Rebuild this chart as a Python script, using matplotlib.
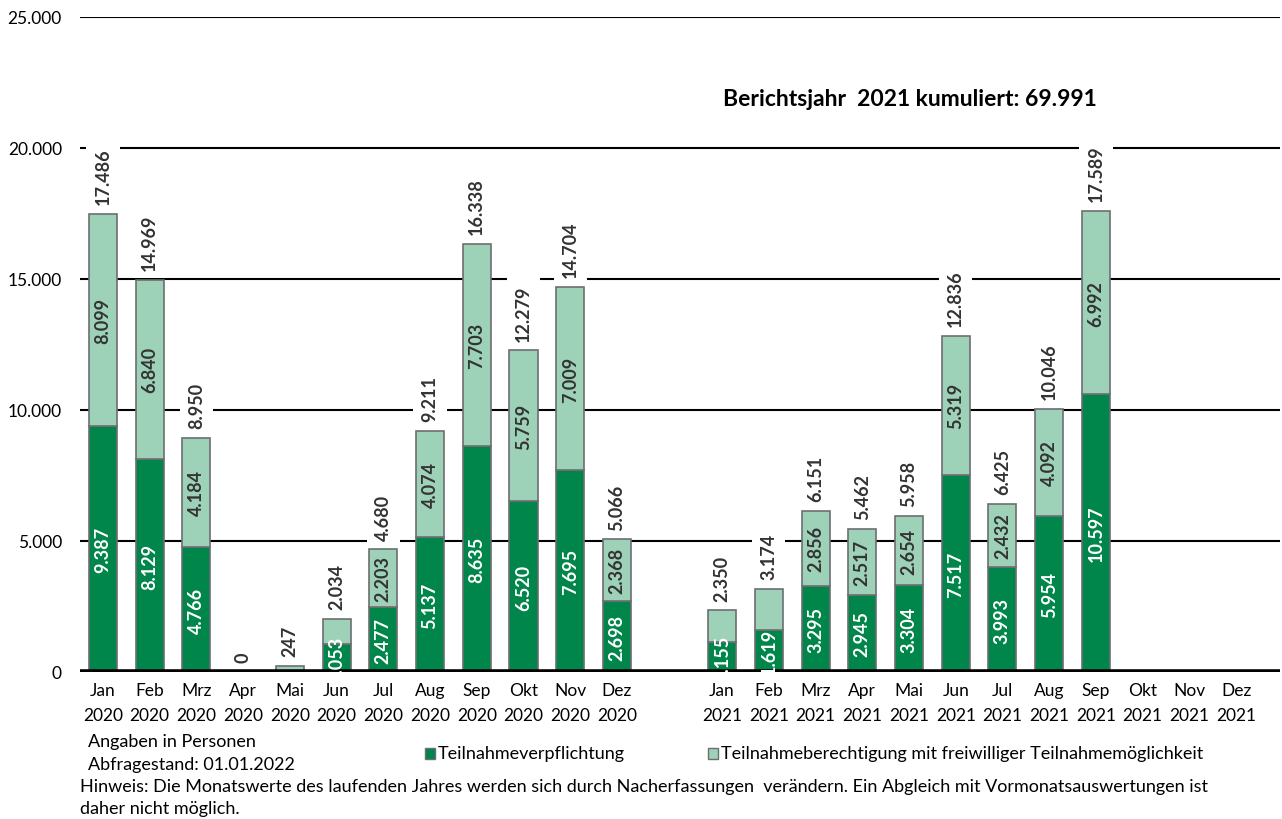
import matplotlib
matplotlib.use("Agg")
import matplotlib.pyplot as plt
from matplotlib.patches import Rectangle

plt.rcParams["font.family"] = ["Lato", "DejaVu Sans"]

monate = ["Jan", "Feb", "Mrz", "Apr", "Mai", "Jun", "Jul", "Aug", "Sep", "Okt", "Nov", "Dez"]

# 2020
pflicht_2020 = [9387, 8129, 4766, 0, 0, 1053, 2477, 5137, 8635, 6520, 7695, 2698]
freiwillig_2020 = [8099, 6840, 4184, 0, 247, 981, 2203, 4074, 7703, 5759, 7009, 2368]
# 2021 (nur bis Sep)
pflicht_2021 = [1155, 1619, 3295, 2945, 3304, 7517, 3993, 5954, 10597]
freiwillig_2021 = [1195, 1555, 2856, 2517, 2654, 5319, 2432, 4092, 6992]

titel = "Berichtsjahr  2021 kumuliert: 69.991"

dunkel = "#00854a"
hell = "#9dd1b8"
rand = "#6d6e71"


def fmt(v):
    return f"{v:,}".replace(",", ".")


fig = plt.figure(figsize=(12.82, 8.2), dpi=100)
ax = fig.add_axes([80 / 1282, 1 - 673 / 820, 1200 / 1282, 655 / 820])

pos_2020 = list(range(12))
pos_2021 = [13.25 + i for i in range(12)]
breite = 0.6

for y in [5000, 10000, 15000, 20000, 25000]:
    ax.axhline(y, color="black", lw=1.5, zorder=1)


def zeichne(pos, unten, oben):
    for x, d, l in zip(pos, unten, oben):
        ax.bar(x, d, breite, color=dunkel, edgecolor=rand, lw=1.2, zorder=3)
        ax.bar(x, l, breite, bottom=d, color=hell, edgecolor=rand, lw=1.2, zorder=3)
        if d > 0:
            ax.text(x, d / 2, fmt(d), rotation=90, ha="center", va="center",
                    color="white", fontsize=13, fontweight="bold", zorder=5)
        if l >= 2000:
            ax.text(x, d + l / 2, fmt(l), rotation=90, ha="center", va="center",
                    color="#333333", fontsize=13, fontweight="bold", zorder=5)
        ax.annotate(fmt(d + l), (x, d + l), xytext=(0, 7), textcoords="offset points",
                    rotation=90, ha="center", va="bottom", color="#333333",
                    fontsize=13, fontweight="bold", zorder=2,
                    bbox=dict(boxstyle="square,pad=0.45", fc="white", ec="none"))


zeichne(pos_2020, pflicht_2020, freiwillig_2020)
zeichne(pos_2021, pflicht_2021, freiwillig_2021)

ax.axhline(0, color="black", lw=4, zorder=4)

ax.set_xlim(-0.492, 25.19)
ax.set_ylim(0, 25000)
ax.set_yticks([0, 5000, 10000, 15000, 20000, 25000])
ax.set_yticklabels([fmt(v) for v in [0, 5000, 10000, 15000, 20000, 25000]], fontsize=12.5)
ax.set_xticks(pos_2020 + pos_2021)
ax.set_xticklabels([f"{m}\n2020" for m in monate] + [f"{m}\n2021" for m in monate],
                   fontsize=12.5, linespacing=1.7)
ax.tick_params(length=0)
ax.tick_params(axis="y", pad=13)
ax.tick_params(axis="x", pad=7)
for s in ax.spines.values():
    s.set_visible(False)

fig.text(910 / 1282, 1 - 99 / 820, titel, ha="center", va="center",
         fontsize=16.5, fontweight="bold")

fs = 13
fig.text(88 / 1282, 1 - 742 / 820, "Angaben in Personen", ha="left", va="center", fontsize=fs)
fig.text(88 / 1282, 1 - 765 / 820, "Abfragestand: 01.01.2022", ha="left", va="center", fontsize=fs)

fig.patches.append(Rectangle((425 / 1282, 1 - 760 / 820), 10 / 1282, 11 / 820,
                             transform=fig.transFigure, fc=dunkel, ec=rand, lw=1))
fig.text(438 / 1282, 1 - 754 / 820, "Teilnahmeverpflichtung", ha="left", va="center", fontsize=fs)
fig.patches.append(Rectangle((708 / 1282, 1 - 760 / 820), 10 / 1282, 11 / 820,
                             transform=fig.transFigure, fc=hell, ec=rand, lw=1))
fig.text(721 / 1282, 1 - 754 / 820, "Teilnahmeberechtigung mit freiwilliger Teilnahmemöglichkeit",
         ha="left", va="center", fontsize=fs)

fig.text(80 / 1282, 1 - 787 / 820,
         "Hinweis: Die Monatswerte des laufenden Jahres werden sich durch Nacherfassungen  "
         "verändern. Ein Abgleich mit Vormonatsauswertungen ist",
         ha="left", va="center", fontsize=fs)
fig.text(80 / 1282, 1 - 809 / 820, "daher nicht möglich.", ha="left", va="center", fontsize=fs)

fig.savefig("out.png", dpi=100)
